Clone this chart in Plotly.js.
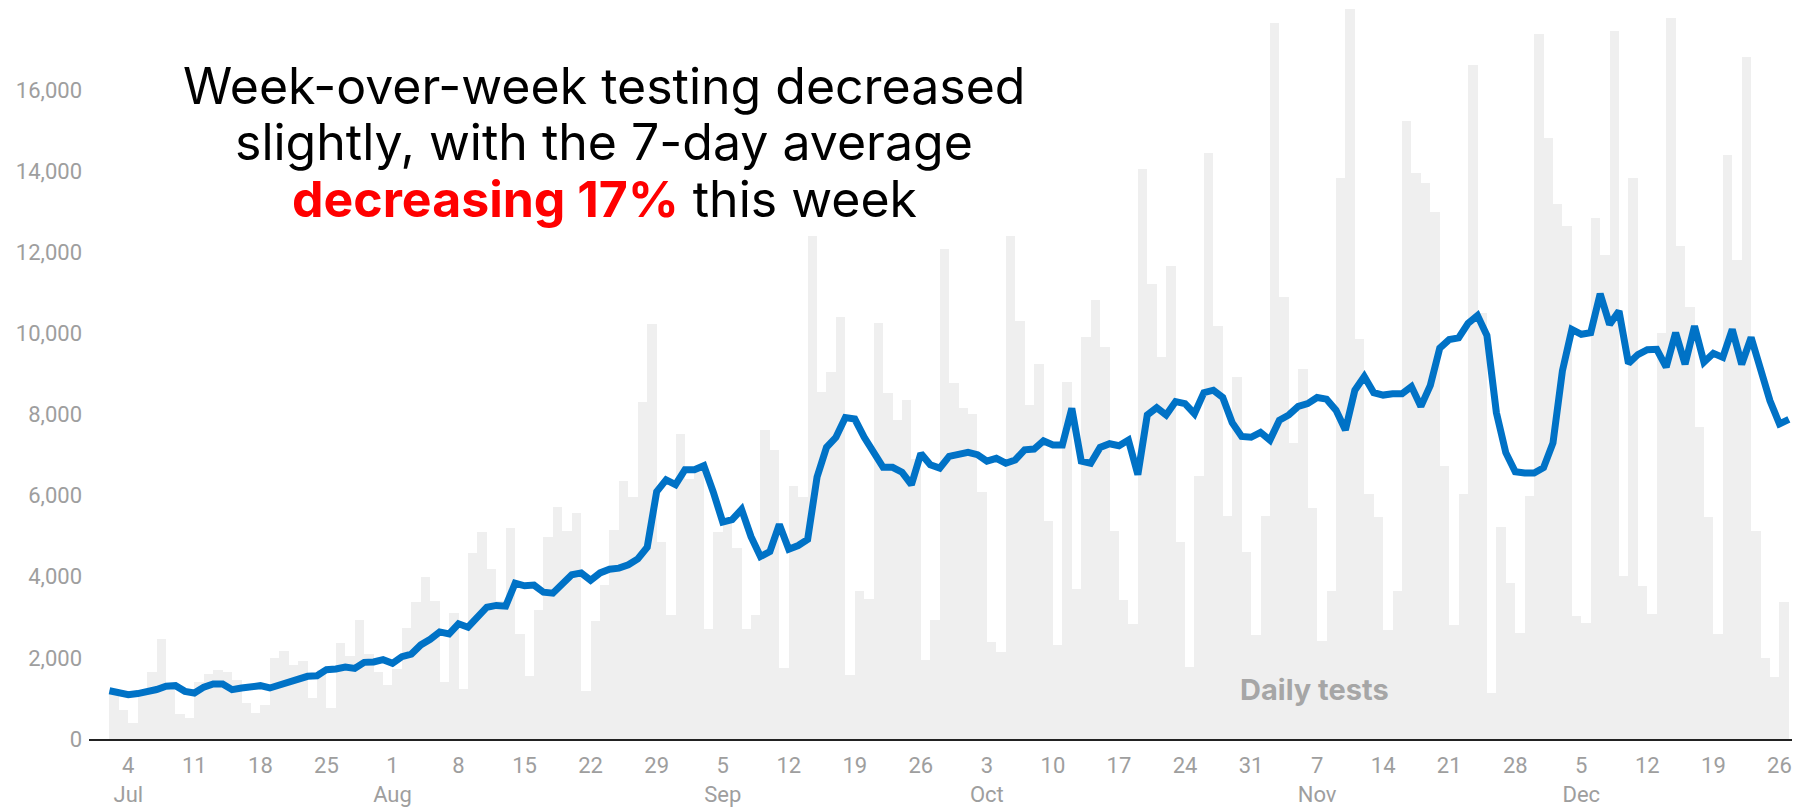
<!DOCTYPE html>
<html>
<head>
<meta charset="utf-8">
<script src="https://cdn.plot.ly/plotly-3.0.1.min.js"></script>
<style>
html,body{margin:0;padding:0;background:#ffffff;}
#chart{width:1804px;height:809px;}
</style>
</head>
<body>
<div id="chart"></div>
<script>
// ---- data ----
const firstBarDate = "2020-07-02";   // daily tests: Jul 2 .. Dec 26
const firstAvgDate = "2020-07-02";   // 7-day average: Jul 2 .. Dec 27

const dailyTests = [
  // Jul 2-31
  1200, 720, 400, 1100, 1640, 2460, 1200, 610, 520, 1400, 1600, 1700, 1640, 1460, 900,
  640, 850, 2000, 2160, 1830, 1930, 1010, 1700, 770, 2370, 2040, 2940, 2100, 1660, 1320,
  // Aug
  1730, 2730, 3370, 4000, 3410, 1410, 3110, 1230, 4580, 5100, 4190, 3400, 5210, 2590, 1550,
  3190, 4990, 5710, 5120, 5570, 1180, 2910, 3790, 5160, 6370, 5960, 8300, 10240, 4860, 3060, 7530,
  // Sep
  6400, 6700, 2720, 5100, 5400, 4700, 2720, 3060, 7620, 7130, 1740, 6230, 5970, 12400, 8560,
  9050, 10410, 1590, 3640, 3450, 10250, 8540, 7860, 8350, 6900, 1960, 2930, 12090, 8780, 8170,
  // Oct
  8020, 6090, 2390, 2140, 12400, 10310, 8230, 9250, 5380, 2320, 8810, 3700, 9920, 10830, 9670,
  5130, 3420, 2840, 14050, 11210, 9420, 11660, 4860, 1780, 6480, 14450, 10190, 5500, 8930, 4620, 2560,
  // Nov
  5500, 17660, 10890, 7310, 9130, 5700, 2410, 3640, 13840, 17990, 9860, 6030, 5480, 2700, 3640,
  15250, 13950, 13720, 12990, 6740, 2820, 6030, 16620, 10500, 1130, 5230, 3850, 2620, 6000, 17390,
  // Dec 1-26
  14810, 13190, 12660, 3040, 2860, 12850, 11930, 17460, 4020, 13830, 3770, 3090, 10000, 17790, 12150,
  10640, 7690, 5480, 2580, 14390, 11820, 16810, 5120, 1990, 1530, 3370
];

const sevenDayAverage = [
  // Jul 2-31
  1190, 1160, 1090, 1120, 1160, 1220, 1300, 1315, 1175, 1135, 1280, 1356, 1356, 1217, 1258,
  1300, 1315, 1258, 1340, 1420, 1480, 1545, 1560, 1710, 1726, 1775, 1740, 1890, 1900, 1957,
  // Aug
  1865, 2030, 2093, 2320, 2457, 2640, 2590, 2840, 2757, 3003, 3250, 3294, 3276, 3840, 3777,
  3795, 3620, 3595, 3804, 4050, 4095, 3913, 4095, 4186, 4213, 4295, 4440, 4730, 6100, 6390, 6270,
  // Sep
  6640, 6640, 6740, 6090, 5350, 5410, 5660, 4990, 4500, 4620, 5290, 4680, 4770, 4920, 6460,
  7190, 7440, 7925, 7890, 7440, 7070, 6700, 6700, 6580, 6270, 7040, 6760, 6680, 6970, 7010,
  // Oct
  7070, 7010, 6850, 6920, 6800, 6880, 7130, 7150, 7350, 7250, 7250, 8150, 6850, 6800, 7190,
  7280, 7230, 7370, 6520, 7990, 8170, 7990, 8320, 8270, 8020, 8540, 8600, 8420, 7800, 7460, 7440,
  // Nov
  7560, 7370, 7860, 7990, 8200, 8270, 8420, 8380, 8110, 7620, 8600, 8940, 8540, 8480, 8510,
  8510, 8690, 8200, 8720, 9640, 9850, 9890, 10250, 10440, 9950, 8050, 7060, 6590, 6560, 6560,
  // Dec 1-27
  6690, 7300, 9080, 10100, 9980, 10020, 10980, 10220, 10550, 9260, 9480, 9600, 9610, 9170, 10020,
  9240, 10180, 9290, 9510, 9410, 10100, 9240, 9900, 9140, 8340, 7770, 7880
];

const tickDates = [
  "2020-07-04","2020-07-11","2020-07-18","2020-07-25",
  "2020-08-01","2020-08-08","2020-08-15","2020-08-22","2020-08-29",
  "2020-09-05","2020-09-12","2020-09-19","2020-09-26",
  "2020-10-03","2020-10-10","2020-10-17","2020-10-24","2020-10-31",
  "2020-11-07","2020-11-14","2020-11-21","2020-11-28",
  "2020-12-05","2020-12-12","2020-12-19","2020-12-26"
];
const tickLabels = [
  "4<br>Jul","11","18","25",
  "1<br>Aug","8","15","22","29",
  "5<br>Sep","12","19","26",
  "3<br>Oct","10","17","24","31",
  "7<br>Nov","14","21","28",
  "5<br>Dec","12","19","26"
];
const yTicks = [0, 2000, 4000, 6000, 8000, 10000, 12000, 14000, 16000];

const headlineLines = [
  "Week-over-week testing decreased",
  "slightly, with the 7-day average",
  "<b><span style=\"color:#ff0000\">decreasing 17%</span></b> this week"
];
const seriesLabel = "Daily tests";

// ---- helpers ----
function consecutiveDays(start, n) {
  const p = start.split("-").map(Number);
  const out = [];
  for (let i = 0; i < n; i++) {
    const d = new Date(Date.UTC(p[0], p[1] - 1, p[2] + i));
    out.push(d.toISOString().slice(0, 10));
  }
  return out;
}
const barDates = consecutiveDays(firstBarDate, dailyTests.length);
const avgDates = consecutiveDays(firstAvgDate, sevenDayAverage.length);

const tickFont = {family: "Roboto, sans-serif", size: 22, color: "#9e9e9e"};

const traces = [
  {
    type: "bar",
    x: barDates,
    y: dailyTests,
    xperiod: 86400000,
    xperiodalignment: "middle",
    marker: {color: "#efefef", line: {width: 0}},
    hoverinfo: "skip"
  },
  {
    type: "scatter",
    mode: "lines",
    x: avgDates,
    y: sevenDayAverage,
    line: {color: "#0072c6", width: 7},
    cliponaxis: false,
    hoverinfo: "skip"
  }
];

const headY = [86, 142, 199];   // pixel centres of the three headline rows
const plotTop = 9, plotBottom = 739;
function paperY(px) { return (plotBottom - px) / (plotBottom - plotTop); }

const annotations = headlineLines.map((t, i) => ({
  text: t,
  xref: "paper", yref: "paper",
  x: (604 - 89) / (1792 - 89),
  y: paperY(headY[i]),
  xanchor: "center", yanchor: "middle",
  showarrow: false,
  font: {family: "Inter, sans-serif", size: 50, color: "#000000"}
}));
annotations.push({
  text: "<b>" + seriesLabel + "</b>",
  xref: "paper", yref: "paper",
  x: (1314 - 89) / (1792 - 89),
  y: paperY(689),
  xanchor: "center", yanchor: "middle",
  showarrow: false,
  font: {family: "Inter, sans-serif", size: 29, color: "#a6a6a6"}
});

const layout = {
  width: 1804,
  height: 809,
  margin: {l: 89, r: 12, t: plotTop, b: 809 - plotBottom, pad: 0},
  paper_bgcolor: "#ffffff",
  plot_bgcolor: "#ffffff",
  showlegend: false,
  bargap: 0,
  xaxis: {
    type: "date",
    range: ["2020-06-29 20:00", "2020-12-27 08:00"],
    tickmode: "array",
    tickvals: tickDates,
    ticktext: tickLabels,
    showgrid: false,
    zeroline: false,
    showline: true,
    linecolor: "#222222",
    linewidth: 2,
    ticks: "",
    ticklabelstandoff: 6,
    tickfont: tickFont,
    fixedrange: true
  },
  yaxis: {
    range: [0, 18000],
    tickmode: "array",
    tickvals: yTicks,
    tickformat: ",",
    showgrid: false,
    zeroline: false,
    showline: false,
    ticks: "",
    ticklabelstandoff: 6,
    tickfont: tickFont,
    fixedrange: true
  },
  annotations: annotations
};

Plotly.newPlot("chart", traces, layout, {displayModeBar: false, staticPlot: true});
</script>
</body>
</html>
